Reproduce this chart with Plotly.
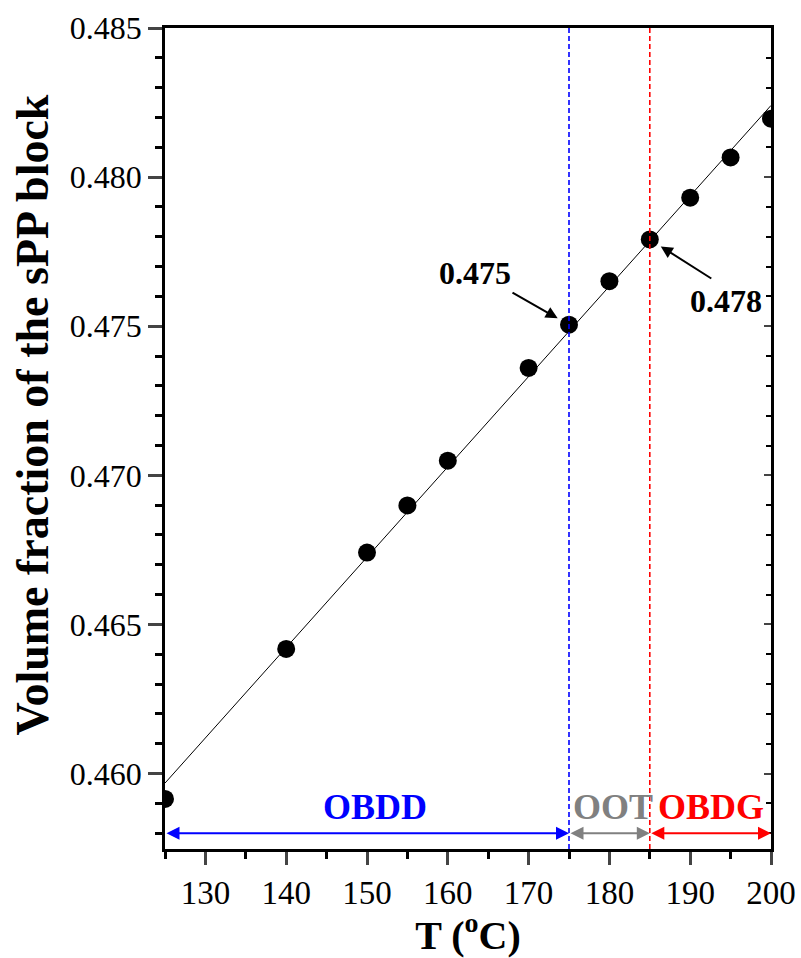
import numpy as np
import plotly.graph_objects as go

# ---- data ----
temperature = [125, 140, 150, 155, 160, 170, 175, 180, 185, 190, 195, 200]
volume_fraction = [0.45915, 0.46418, 0.46741, 0.46899, 0.47049, 0.47360,
                   0.47505, 0.47651, 0.47791, 0.47931, 0.48066, 0.48196]

x_ticks = [130, 140, 150, 160, 170, 180, 190, 200]
y_ticks = [0.460, 0.465, 0.470, 0.475, 0.480, 0.485]

phase_names = ["OBDD", "OOT", "OBDG"]
phase_bounds = [(125, 175), (175, 185), (185, 200)]
phase_colors = ["#0000FF", "#808080", "#FF0000"]
phase_label_x = [151, 180.4, 192.6]
phase_arrow_y = 0.458
phase_label_y = 0.45888

transition_T = [175, 185]
transition_colors = ["#0000FF", "#FF0000"]
callout_T = [175, 185]
callout_text = ["0.475", "0.478"]
callout_label_x = [163.4, 194.4]
callout_label_y = [0.47678, 0.47586]

FONT = "Times New Roman, Liberation Serif, serif"

# linear fit through the data points
coef = np.polyfit(temperature, volume_fraction, 1)
fit_x = [min(temperature), max(temperature)]
fit_y = list(np.polyval(coef, fit_x))

fig = go.Figure()
fig.add_trace(go.Scatter(x=fit_x, y=fit_y, mode="lines",
                         line=dict(color="black", width=1), showlegend=False,
                         hoverinfo="skip"))
fig.add_trace(go.Scatter(x=temperature, y=volume_fraction, mode="markers",
                         marker=dict(color="black", size=18), showlegend=False))
# invisible trace for right-axis mirrored ticks
fig.add_trace(go.Scatter(x=temperature, y=volume_fraction, mode="markers",
                         marker=dict(opacity=0), yaxis="y2", showlegend=False,
                         hoverinfo="skip"))

shapes = []
for T, c in zip(transition_T, transition_colors):
    shapes.append(dict(type="line", xref="x", yref="paper", x0=T, x1=T, y0=0, y1=1,
                       line=dict(color=c, width=1.6, dash="5px,3px"), layer="above"))

annotations = []
for (x0, x1), c, name, lx in zip(phase_bounds, phase_colors, phase_names, phase_label_x):
    annotations.append(dict(x=x1, y=phase_arrow_y, ax=x0, ay=phase_arrow_y,
                            xref="x", yref="y", axref="x", ayref="y",
                            text="", showarrow=True, arrowhead=2, arrowside="end+start",
                            arrowsize=1.3, arrowwidth=2, arrowcolor=c, standoff=0,
                            startstandoff=0))
    annotations.append(dict(x=lx, y=phase_label_y, xref="x", yref="y", text=f"<b>{name}</b>",
                            showarrow=False, font=dict(family=FONT, size=36, color=c)))

arrow_offsets = [(-58, -33), (63, 40)]
for T, txt, lx, ly, (dx, dy) in zip(callout_T, callout_text, callout_label_x,
                                     callout_label_y, arrow_offsets):
    i = temperature.index(T)
    annotations.append(dict(x=T, y=volume_fraction[i], xref="x", yref="y",
                            text="", showarrow=True, arrowhead=2,
                            arrowsize=1.2, arrowwidth=2, arrowcolor="black",
                            ax=dx, ay=dy, standoff=13))
    annotations.append(dict(x=lx, y=ly, xref="x", yref="y", text=f"<b>{txt}</b>",
                            showarrow=False,
                            font=dict(family=FONT, size=32, color="black")))

# y-axis title as a rotated annotation (placed like the reference)
annotations.append(dict(x=-0.218, y=0.529, xref="paper", yref="paper",
                        text="<b>Volume fraction of the sPP block</b>", textangle=-90,
                        showarrow=False, xanchor="center", yanchor="middle",
                        font=dict(family=FONT, size=46, color="black")))

yrange = [0.45747, 0.485]

fig.update_layout(
    width=801, height=958,
    margin=dict(l=165, r=30, t=28, b=109),
    paper_bgcolor="white", plot_bgcolor="white",
    font=dict(family=FONT, color="black"),
    shapes=shapes, annotations=annotations,
    xaxis=dict(range=[125, 200], tickvals=x_ticks, ticks="outside", ticklen=13,
               tickwidth=2.5, showline=True, linewidth=2.5, linecolor="black",
               mirror=True, showgrid=False, zeroline=False, automargin=False,
               tickfont=dict(family=FONT, size=33, color="black"),
               minor=dict(ticks="outside", tickvals=[125, 135, 145, 155, 165, 175, 185, 195],
                          ticklen=7, tickwidth=2.5, tickcolor="black", showgrid=False),
               title=dict(text="<b>T (<sup>o</sup>C)</b>", standoff=6,
                          font=dict(family=FONT, size=40, color="black"))),
    yaxis=dict(range=yrange, tickvals=y_ticks, tickformat=".3f", ticks="outside",
               ticklen=14, tickwidth=2.5, showline=True, linewidth=2.5,
               linecolor="black", mirror=True, showgrid=False, zeroline=False,
               automargin=False,
               tickfont=dict(family=FONT, size=32, color="black"),
               minor=dict(ticks="outside", dtick=0.001, tick0=0.458, ticklen=7,
                          tickwidth=2.5, tickcolor="black", showgrid=False)),
    yaxis2=dict(range=yrange, overlaying="y", side="right", anchor="x",
                tickvals=y_ticks, ticks="inside", ticklen=7, tickwidth=2,
                showticklabels=False, showline=False, showgrid=False, zeroline=False,
                automargin=False,
                minor=dict(ticks="inside", dtick=0.001, tick0=0.458, ticklen=5,
                           tickwidth=2, tickcolor="black", showgrid=False)),
)

fig.write_html("out.html", config={"displayModeBar": False},
               post_script="document.body.style.margin='0';document.body.style.overflow='hidden';")
